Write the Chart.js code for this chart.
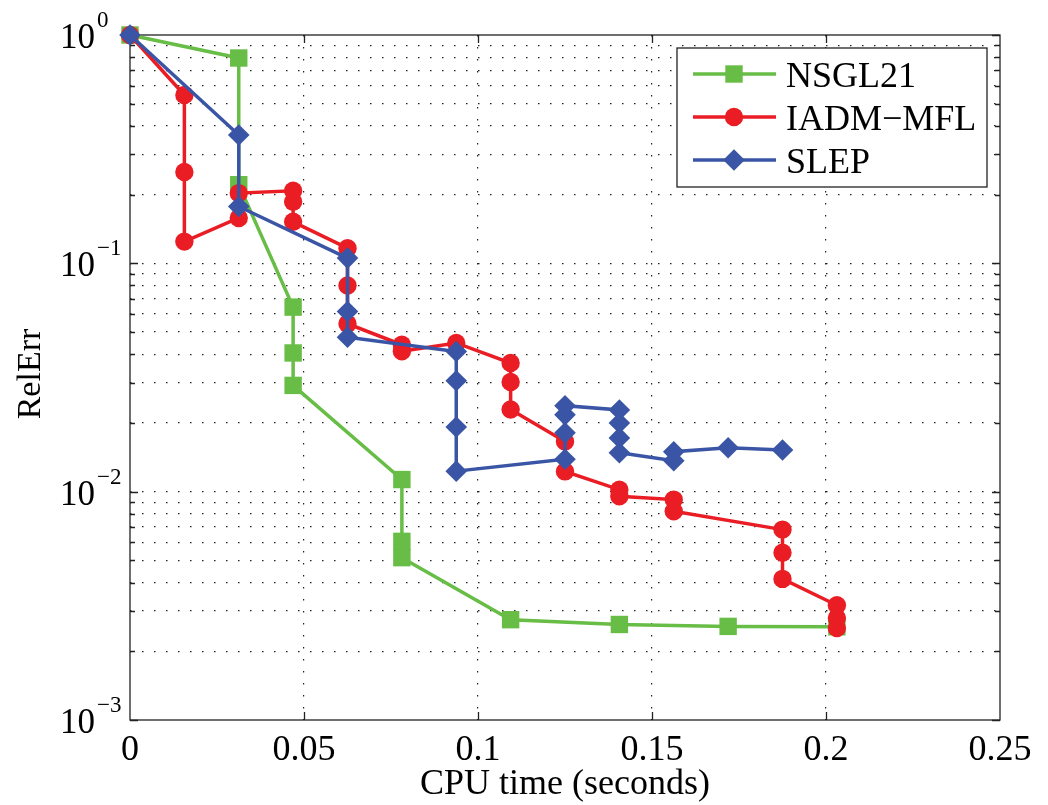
<!DOCTYPE html>
<html><head><meta charset="utf-8">
<script src="https://cdn.jsdelivr.net/npm/chart.js@4/dist/chart.umd.min.js"></script>
<style>html,body{margin:0;padding:0;background:#fff}#wrap{width:1048px;height:805px}</style>
</head><body><div id="wrap"><canvas id="c" width="1048" height="805"></canvas></div>
<script>
const seriesNames = ['NSGL21', 'IADM\u2212MFL', 'SLEP'];
const seriesColors = ['#67BD45', '#EA1D25', '#3A55A5'];
const seriesMarkers = ['rect', 'circle', 'rectRot'];
const markerRadius = [12.3, 9.2, 10.8];

const nsglTime = [0, 0.03125, 0.03125, 0.046875, 0.046875, 0.046875, 0.078125, 0.078125, 0.078125, 0.109375, 0.140625, 0.171875, 0.203125];
const nsglErr  = [1, 0.793, 0.221, 0.0643, 0.0405, 0.0292, 0.0113, 0.00606, 0.00514, 0.00275, 0.00262, 0.00257, 0.00256];

const iadmTime = [0, 0.015625, 0.015625, 0.015625, 0.03125, 0.03125, 0.046875, 0.046875, 0.046875, 0.0625, 0.0625, 0.0625, 0.078125, 0.078125, 0.09375, 0.109375, 0.109375, 0.109375, 0.125, 0.125, 0.140625, 0.140625, 0.15625, 0.15625, 0.1875, 0.1875, 0.1875, 0.203125, 0.203125, 0.203125];
const iadmErr  = [1, 0.546, 0.251, 0.1245, 0.158, 0.203, 0.208, 0.186, 0.152, 0.1165, 0.0800, 0.0544, 0.0440, 0.0412, 0.0448, 0.0366, 0.0302, 0.0229, 0.0166, 0.01227, 0.0102, 0.00954, 0.00923, 0.0082, 0.00682, 0.0054, 0.00415, 0.00318, 0.0028, 0.00253];

const slepTime = [0, 0.03125, 0.03125, 0.0625, 0.0625, 0.0625, 0.09375, 0.09375, 0.09375, 0.09375, 0.125, 0.125, 0.125, 0.125, 0.140625, 0.140625, 0.140625, 0.140625, 0.15625, 0.15625, 0.171875, 0.1875];
const slepErr  = [1, 0.365, 0.1774, 0.1054, 0.0615, 0.0475, 0.0411, 0.0306, 0.0192, 0.0123, 0.01387, 0.0181, 0.0217, 0.0238, 0.0228, 0.0200, 0.0172, 0.0148, 0.01367, 0.01496, 0.01558, 0.01522];

const xTickValues = [0, 0.05, 0.1, 0.15, 0.2, 0.25];
const xTickLabels = ['0', '0.05', '0.1', '0.15', '0.2', '0.25'];
const yMajorValues = [0.001, 0.01, 0.1, 1];
const yMajorExponents = ['\u22123', '\u22122', '\u22121', '0'];
const yTickValues = [];
[-3, -2, -1].forEach(e => { for (let m = 1; m <= 9; m++) yTickValues.push(m * Math.pow(10, e)); });
yTickValues.push(1);

const xTitle = 'CPU time (seconds)';
const yTitle = 'RelErr';
const FONT = "'Liberation Serif', 'Times New Roman', serif";

function pts(t, v) { return t.map((x, i) => ({x: x, y: v[i]})); }

function drawMarker(ctx, style, x, y, r, color) {
  ctx.save();
  ctx.fillStyle = color;
  ctx.beginPath();
  if (style === 'rect') {
    const h = r * Math.SQRT1_2;
    ctx.rect(x - h, y - h, 2 * h, 2 * h);
  } else if (style === 'circle') {
    ctx.arc(x, y, r, 0, Math.PI * 2);
  } else {
    ctx.moveTo(x, y - r); ctx.lineTo(x + r, y); ctx.lineTo(x, y + r); ctx.lineTo(x - r, y); ctx.closePath();
  }
  ctx.fill();
  ctx.restore();
}

const framePlugin = {
  id: 'frame',
  beforeDatasetsDraw(chart) {
    const ctx = chart.ctx;
    const {left, right, top, bottom} = chart.chartArea;
    const xs = chart.scales.x, ys = chart.scales.y;
    ctx.save();
    ctx.strokeStyle = '#222';
    ctx.lineWidth = 1.3;
    ctx.strokeRect(left, top, right - left, bottom - top);
    ctx.beginPath();
    xTickValues.forEach(v => {
      if (v === 0 || v === 0.25) return;
      const px = Math.round(xs.getPixelForValue(v)) + 0.5;
      ctx.moveTo(px, bottom); ctx.lineTo(px, bottom - 8);
      ctx.moveTo(px, top); ctx.lineTo(px, top + 8);
    });
    yTickValues.forEach(v => {
      const py = Math.round(ys.getPixelForValue(v)) + 0.5;
      const len = yMajorValues.some(m => Math.abs(m - v) < 1e-12) ? 8 : 5;
      ctx.moveTo(left, py); ctx.lineTo(left + len, py);
      ctx.moveTo(right, py); ctx.lineTo(right - len, py);
    });
    ctx.stroke();
    ctx.restore();
  },
  afterDatasetsDraw(chart) {
    const ctx = chart.ctx;
    const bx = 677, by = 48, bw = 310, bh = 139;
    ctx.save();
    ctx.fillStyle = '#fff';
    ctx.fillRect(bx, by, bw, bh);
    ctx.strokeStyle = '#222';
    ctx.lineWidth = 1.3;
    ctx.strokeRect(bx, by, bw, bh);
    const rows = [74, 117, 160];
    seriesNames.forEach((name, i) => {
      const y = rows[i];
      ctx.strokeStyle = seriesColors[i];
      ctx.lineWidth = 3.5;
      ctx.beginPath(); ctx.moveTo(693, y); ctx.lineTo(776, y); ctx.stroke();
      drawMarker(ctx, seriesMarkers[i], 734, y, markerRadius[i], seriesColors[i]);
      ctx.fillStyle = '#000';
      ctx.font = '36px ' + FONT;
      ctx.textAlign = 'left';
      ctx.textBaseline = 'alphabetic';
      ctx.fillText(name, 786, y + 12.5);
    });
    ctx.restore();
  },
  afterDraw(chart) {
    const ctx = chart.ctx;
    const ys = chart.scales.y;
    ctx.save();
    ctx.fillStyle = '#000';
    ctx.textBaseline = 'alphabetic';
    yMajorValues.forEach((v, i) => {
      const py = ys.getPixelForValue(v);
      ctx.font = '35px ' + FONT;
      ctx.textAlign = 'right';
      ctx.fillText('10', 95, py + 13);
      ctx.font = '23px ' + FONT;
      ctx.textAlign = 'left';
      ctx.fillText(yMajorExponents[i], 97, py - 8);
    });
    ctx.translate(40, 374);
    ctx.rotate(-Math.PI / 2);
    ctx.font = '34px ' + FONT;
    ctx.textAlign = 'center';
    ctx.fillText(yTitle, 0, 0);
    ctx.restore();
  }
};

const gridDash = [1.5, 10.5];

new Chart(document.getElementById('c').getContext('2d'), {
  type: 'line',
  data: {
    datasets: [
      {label: seriesNames[0], data: pts(nsglTime, nsglErr), order: 3},
      {label: seriesNames[1], data: pts(iadmTime, iadmErr), order: 2},
      {label: seriesNames[2], data: pts(slepTime, slepErr), order: 1}
    ].map((d, i) => Object.assign(d, {
      borderColor: seriesColors[i],
      backgroundColor: seriesColors[i],
      pointBackgroundColor: seriesColors[i],
      pointBorderColor: seriesColors[i],
      pointBorderWidth: 0,
      pointStyle: seriesMarkers[i],
      pointRadius: markerRadius[i],
      borderWidth: 3.5,
      tension: 0,
      fill: false,
      clip: false
    }))
  },
  options: {
    responsive: false,
    animation: false,
    layout: {padding: {top: 35, right: 48, left: 0, bottom: 0}},
    plugins: {legend: {display: false}, tooltip: {enabled: false}},
    scales: {
      x: {
        type: 'linear', min: 0, max: 0.25,
        afterBuildTicks: s => { s.ticks = xTickValues.map(v => ({value: v})); },
        afterFit: s => { s.height = 85; },
        ticks: {
          callback: (v, i) => xTickLabels[i],
          font: {family: FONT, size: 36, lineHeight: 1.2},
          color: '#000', padding: 9, maxRotation: 0, autoSkip: false
        },
        grid: {
          color: c => (c.index === 0 || c.index === xTickValues.length - 1) ? 'rgba(0,0,0,0)' : '#222',
          lineWidth: 1.2, drawTicks: false
        },
        border: {display: false, dash: gridDash},
        title: {display: true, text: xTitle, color: '#000',
          font: {family: FONT, size: 36, lineHeight: 1}, padding: {top: 0, bottom: 2}}
      },
      y: {
        type: 'logarithmic', min: 0.001, max: 1,
        afterBuildTicks: s => { s.ticks = yTickValues.map(v => ({value: v})); },
        afterFit: s => { s.width = 130; },
        ticks: {display: false},
        grid: {
          color: c => (c.index === 0 || c.index === yTickValues.length - 1) ? 'rgba(0,0,0,0)' : '#222',
          lineWidth: 1.2, drawTicks: false
        },
        border: {display: false, dash: gridDash}
      }
    }
  },
  plugins: [framePlugin]
});
</script>
</body></html>
